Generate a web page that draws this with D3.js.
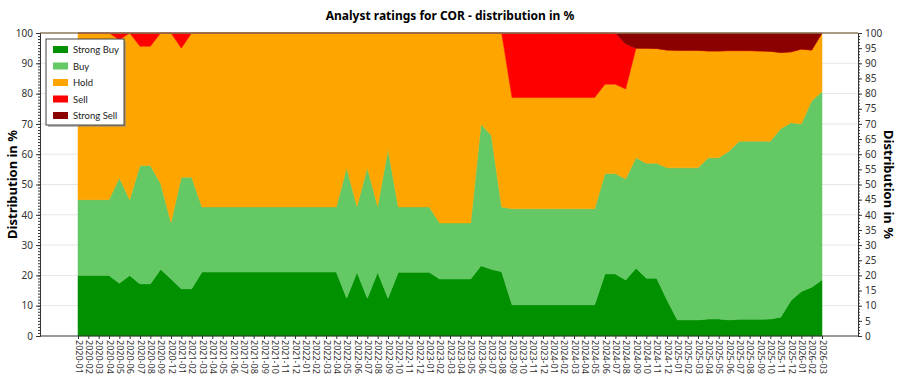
<!DOCTYPE html>
<html>
<head>
<meta charset="utf-8">
<script src="https://cdn.jsdelivr.net/npm/d3@7"></script>
<style>
    body { margin: 0; background: #fff; font-family: 'Noto Sans', 'Open Sans', sans-serif; }
    svg text { font-family: 'Noto Sans', 'Open Sans', sans-serif; }
</style>
</head>
<body>
<div id="plot1"></div>
<script>
// categories (months with data)
let months = ['2020-01','2020-02','2020-03','2020-04','2020-05','2020-06','2020-07','2020-08','2020-09','2020-12'];
for (let y = 2021; y <= 2025; y++) {
    for (let m = 1; m <= 12; m++) months.push(y + '-' + (m < 10 ? '0' + m : m));
}
months.push('2026-01', '2026-02', '2026-03');

const strongBuy = [20,20,20,20,17.4,20,17.2,17.2,22,18.8,15.6,15.6,
    21.1,21.1,21.1,21.1,21.1,21.1,21.1,21.1,21.1,21.1,21.1,21.1,21.1,21.1,
    12.5,21,12.5,21,12.5,21,21,21,21,18.8,18.8,18.8,18.8,23.2,22,21.2,
    10.3,10.3,10.3,10.3,10.3,10.3,10.3,10.3,10.3,
    20.5,20.5,18.5,22.4,19.1,19.1,11.9,5.3,5.3,5.3,5.6,5.6,5.3,5.5,5.5,5.5,5.6,6.2,11.7,14.7,16.1,18.5];
const buy = [25,25,25,25,34.8,25,39.1,39.1,28.3,18.7,36.8,36.8,
    21.5,21.5,21.5,21.5,21.5,21.5,21.5,21.5,21.5,21.5,21.5,21.5,21.5,21.5,
    43,21.8,43,21.8,49.1,21.6,21.6,21.6,21.6,18.5,18.5,18.5,18.5,46.7,44.2,21.4,
    31.7,31.7,31.7,31.7,31.7,31.7,31.7,31.7,31.7,
    33.1,33.1,33.3,36.4,37.9,37.9,43.6,50.2,50.2,50.2,53.2,53.2,55.7,58.8,58.8,58.8,58.7,62.2,58.7,55.3,61.5,62.1];
const hold = [55,55,55,55,45.6,55,39.3,39.3,49.7,62.5,42.6,47.6,
    57.4,57.4,57.4,57.4,57.4,57.4,57.4,57.4,57.4,57.4,57.4,57.4,57.4,57.4,
    44.5,57.2,44.5,57.2,38.4,57.4,57.4,57.4,57.4,62.7,62.7,62.7,62.7,30.1,33.8,57.4,
    36.7,36.7,36.7,36.7,36.7,36.7,36.7,36.7,36.7,
    29.5,29.5,29.7,36.2,38,37.9,38.9,38.8,38.8,38.8,35.3,35.3,33.2,29.9,29.9,29.8,29.7,25.2,23.4,24.7,16.8,19.4];
const sell = [0,0,0,0,2.2,0,4.4,4.4,0,0,5,0,
    0,0,0,0,0,0,0,0,0,0,0,0,0,0,
    0,0,0,0,0,0,0,0,0,0,0,0,0,0,0,0,
    21.3,21.3,21.3,21.3,21.3,21.3,21.3,21.3,21.3,
    16.9,16.9,14.9,0,0,0,0,0,0,0,0,0,0,0,0,0,0,0,0,0,0,0];
const strongSell = [0,0,0,0,0,0,0,0,0,0,0,0,
    0,0,0,0,0,0,0,0,0,0,0,0,0,0,
    0,0,0,0,0,0,0,0,0,0,0,0,0,0,0,0,
    0,0,0,0,0,0,0,0,0,
    0,0,3.6,5,5,5.1,5.6,5.7,5.7,5.7,5.9,5.9,5.8,5.8,5.8,5.9,6,6.4,6.2,5.3,5.6,0];

const seriesNames = ['Strong Buy', 'Buy', 'Hold', 'Sell', 'Strong Sell'];
const seriesColors = ['#009000', '#64c864', '#ffa500', '#ff0000', '#8b0000'];

let table = months.map((m, i) => ({
    month: m,
    'Strong Buy': strongBuy[i],
    'Buy': buy[i],
    'Hold': hold[i],
    'Sell': sell[i],
    'Strong Sell': strongSell[i]
}));

let svgWidth = 900;
let svgHeight = 375;
let plot = {left: 40, right: 858, top: 33, bottom: 336};

let svg = d3.select('#plot1')
    .append('svg')
    .attr('width', svgWidth)
    .attr('height', svgHeight);

let xs = d3.scalePoint()
    .domain(months)
    .range([78, 822]);
let ys = d3.scaleLinear()
    .domain([0, 100])
    .range([plot.bottom, plot.top]);
let color = d3.scaleOrdinal()
    .domain(seriesNames)
    .range(seriesColors);

// grid
svg.append('g')
    .selectAll('line')
    .data(d3.range(10, 100, 10))
    .enter()
    .append('line')
    .attr('x1', plot.left)
    .attr('x2', plot.right)
    .attr('y1', d => ys(d))
    .attr('y2', d => ys(d))
    .style('stroke', '#e6e6e6')
    .style('stroke-width', '1px');

let stacked = d3.stack().keys(seriesNames)(table);

const areaGen = d3.area()
    .x(d => xs(d.data.month))
    .y0(d => ys(d[0]))
    .y1(d => ys(d[1]));

svg.append('g')
    .selectAll('path')
    .data(stacked)
    .enter()
    .append('path')
    .attr('d', areaGen)
    .style('fill', d => color(d.key))
    .style('stroke', d => color(d.key))
    .style('stroke-width', '0.5px');

// frame top
svg.append('line')
    .attr('x1', plot.left).attr('x2', plot.right)
    .attr('y1', plot.top).attr('y2', plot.top)
    .style('stroke', '#8c7a5a')
    .style('stroke-width', '1.5px');

// minor ticks (dotted look on axes)
function minorTicks(x, dir) {
    svg.append('g')
        .selectAll('line')
        .data(d3.range(0, 101, 1))
        .enter()
        .append('line')
        .attr('x1', x)
        .attr('x2', x + dir * 2)
        .attr('y1', d => ys(d) + 0.5)
        .attr('y2', d => ys(d) + 0.5)
        .style('stroke', '#333')
        .style('stroke-width', '1px');
}

let yAxisL = d3.axisLeft(ys).tickValues(d3.range(0, 101, 10)).tickSize(4).tickPadding(3);
let yAxisR = d3.axisRight(ys).tickValues(d3.range(0, 101, 5)).tickSize(4).tickPadding(3);

let gl = svg.append('g')
    .attr('class', 'y axis')
    .attr('transform', 'translate(' + plot.left + ',0)')
    .call(yAxisL);
let gr = svg.append('g')
    .attr('class', 'y axis')
    .attr('transform', 'translate(' + plot.right + ',0)')
    .call(yAxisR);
minorTicks(plot.left, -1);
minorTicks(plot.right, 1);

[gl, gr].forEach(g => {
    g.select('.domain').style('stroke', '#333');
    g.selectAll('.tick line').style('stroke', '#333');
    g.selectAll('.tick text').style('font-size', '10px').style('fill', '#333');
});

let xAxis = d3.axisBottom(xs).tickSize(3).tickPadding(3);
let gx = svg.append('g')
    .attr('class', 'x axis')
    .attr('transform', 'translate(0,' + plot.bottom + ')')
    .call(xAxis);
gx.select('.domain').remove();
gx.append('line')
    .attr('x1', plot.left).attr('x2', plot.right)
    .style('stroke', '#333');
gx.selectAll('.tick line').style('stroke', '#333');
gx.selectAll('.tick text')
    .attr('transform', 'rotate(90)')
    .attr('x', 4)
    .attr('y', 0)
    .attr('dy', '0.32em')
    .style('text-anchor', 'start')
    .style('font-size', '9px')
    .style('fill', '#333');

// titles
svg.append('text')
    .attr('x', 450)
    .attr('y', 20)
    .style('text-anchor', 'middle')
    .style('font-size', '12px')
    .style('font-weight', 'bold')
    .text('Analyst ratings for COR - distribution in %');

svg.append('text')
    .attr('transform', 'rotate(-90)')
    .attr('x', -(plot.top + plot.bottom) / 2)
    .attr('y', 17)
    .style('text-anchor', 'middle')
    .style('font-size', '13px')
    .style('font-weight', 'bold')
    .text('Distribution in %');

svg.append('text')
    .attr('transform', 'rotate(90)')
    .attr('x', (plot.top + plot.bottom) / 2)
    .attr('y', -884)
    .style('text-anchor', 'middle')
    .style('font-size', '13px')
    .style('font-weight', 'bold')
    .text('Distribution in %');

// legend
let lg = svg.append('g').attr('transform', 'translate(46,39)');
lg.append('rect')
    .attr('x', 2).attr('y', 2)
    .attr('width', 78).attr('height', 86)
    .style('fill', '#888')
    .style('opacity', 0.6);
lg.append('rect')
    .attr('width', 78).attr('height', 86)
    .style('fill', '#fff')
    .style('stroke', '#444')
    .style('stroke-width', '1px');

let legend = lg.selectAll('.legend')
    .data(color.domain())
    .enter()
    .append('g')
    .attr('class', 'legend')
    .attr('transform', (d, i) => 'translate(0,' + (10 + i * 16.5) + ')');

legend.append('rect')
    .attr('x', 7)
    .attr('y', -3)
    .attr('width', 15)
    .attr('height', 7)
    .style('fill', color);

legend.append('text')
    .attr('x', 27)
    .attr('y', 4)
    .style('font-family', 'Lato, sans-serif')
    .style('font-size', '9.5px')
    .style('fill', '#222')
    .text(d => d);
</script>
</body>
</html>
